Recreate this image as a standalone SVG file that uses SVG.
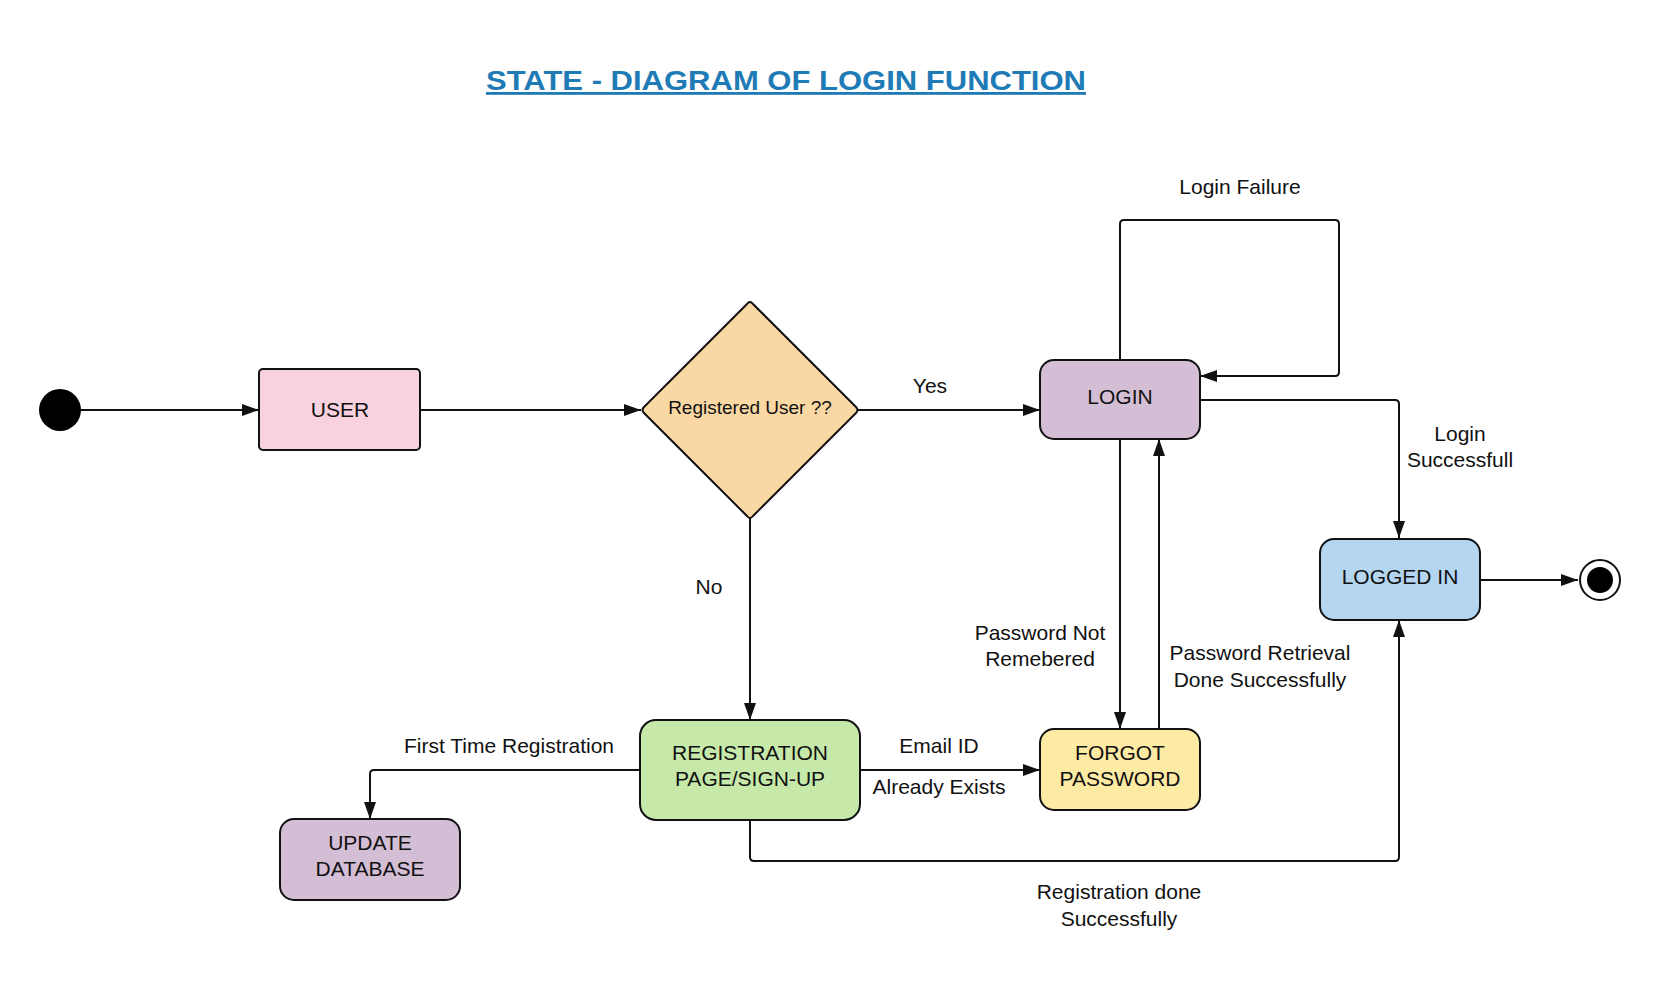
<svg xmlns="http://www.w3.org/2000/svg" width="1660" height="984" viewBox="0 0 1660 984">
<style>
  text { font-family: "Liberation Sans", Arial, sans-serif; fill: #111; }
  .node { stroke: #111; stroke-width: 2; }
  .lbl { font-size: 21px; text-anchor: middle; }
  .edge { fill: none; stroke: #111; stroke-width: 2; }
  .title { font-size: 28px; font-weight: bold; fill: #1f7bb6; text-anchor: middle; text-decoration: underline; }
</style>
<defs>
  <marker id="arr" viewBox="0 0 17 12" refX="17" refY="6" markerWidth="17" markerHeight="12" markerUnits="userSpaceOnUse" orient="auto">
    <path d="M0,0 L17,6 L0,12 Z" fill="#111"/>
  </marker>
</defs>
<rect width="1660" height="984" fill="#ffffff"/>
<text class="title" x="786" y="90" textLength="600" lengthAdjust="spacingAndGlyphs">STATE - DIAGRAM OF LOGIN FUNCTION</text>

<g id="connectors">
  <path class="edge" d="M81,410 H259" marker-end="url(#arr)"/>
  <path class="edge" d="M420,410 H641" marker-end="url(#arr)"/>
  <path class="edge" d="M858,410 H1040" marker-end="url(#arr)"/>
  <path class="edge" d="M1120,360 V224 Q1120,220 1124,220 H1335 Q1339,220 1339,224 V372 Q1339,376 1335,376 H1200" marker-end="url(#arr)"/>
  <path class="edge" d="M1200,400 H1395 Q1399,400 1399,404 V538" marker-end="url(#arr)"/>
  <path class="edge" d="M1480,580 H1578" marker-end="url(#arr)"/>
  <path class="edge" d="M1120,439 V729" marker-end="url(#arr)"/>
  <path class="edge" d="M1159,729 V439" marker-end="url(#arr)"/>
  <path class="edge" d="M750,518 V720" marker-end="url(#arr)"/>
  <path class="edge" d="M639,770 H374 Q370,770 370,774 V819" marker-end="url(#arr)"/>
  <path class="edge" d="M860,770 H1040" marker-end="url(#arr)"/>
  <path class="edge" d="M750,820 V857 Q750,861 754,861 H1395 Q1399,861 1399,857 V620" marker-end="url(#arr)"/>
  <text class="lbl" x="930" y="393">Yes</text>
  <text class="lbl" x="1240" y="194">Login Failure</text>
  <text class="lbl" x="1460" y="441">Login</text>
  <text class="lbl" x="1460" y="467">Successfull</text>
  <text class="lbl" x="709" y="594">No</text>
  <text class="lbl" x="1040" y="640">Password Not</text>
  <text class="lbl" x="1040" y="666">Remebered</text>
  <text class="lbl" x="1260" y="660">Password Retrieval</text>
  <text class="lbl" x="1260" y="687">Done Successfully</text>
  <text class="lbl" x="509" y="753">First Time Registration</text>
  <text class="lbl" x="939" y="753">Email ID</text>
  <text class="lbl" x="939" y="794">Already Exists</text>
  <text class="lbl" x="1119" y="899">Registration done</text>
  <text class="lbl" x="1119" y="926">Successfully</text>
</g>

<g id="start">
  <circle cx="60" cy="410" r="21" fill="#000"/>
</g>
<g id="user">
  <rect class="node" x="259" y="369" width="161" height="81" rx="4" fill="#f9d1df"/>
  <text class="lbl" x="340" y="417">USER</text>
</g>
<g id="decision">
  <path class="node" d="M747,304 Q750,300 753,304 L856,407 Q859,410 856,413 L753,516 Q750,520 747,516 L644,413 Q641,410 644,407 Z" fill="#fad8a4"/>
  <text x="750" y="414" font-size="19" text-anchor="middle">Registered User ??</text>
</g>
<g id="login">
  <rect class="node" x="1040" y="360" width="160" height="79" rx="14" fill="#d4bed5"/>
  <text class="lbl" x="1120" y="404">LOGIN</text>
</g>
<g id="loggedin">
  <rect class="node" x="1320" y="539" width="160" height="81" rx="14" fill="#b4d6f0"/>
  <text class="lbl" x="1400" y="584">LOGGED IN</text>
</g>
<g id="end">
  <circle cx="1600" cy="580" r="20" fill="#fff" stroke="#111" stroke-width="2"/>
  <circle cx="1600" cy="580" r="13" fill="#000"/>
</g>
<g id="registration">
  <rect class="node" x="640" y="720" width="220" height="100" rx="16" fill="#c6e9aa"/>
  <text class="lbl" x="750" y="760">REGISTRATION</text>
  <text class="lbl" x="750" y="786">PAGE/SIGN-UP</text>
</g>
<g id="forgot">
  <rect class="node" x="1040" y="729" width="160" height="81" rx="14" fill="#fdeaa3"/>
  <text class="lbl" x="1120" y="760">FORGOT</text>
  <text class="lbl" x="1120" y="786">PASSWORD</text>
</g>
<g id="updatedb">
  <rect class="node" x="280" y="819" width="180" height="81" rx="14" fill="#d4bed5"/>
  <text class="lbl" x="370" y="850">UPDATE</text>
  <text class="lbl" x="370" y="876">DATABASE</text>
</g>
</svg>
